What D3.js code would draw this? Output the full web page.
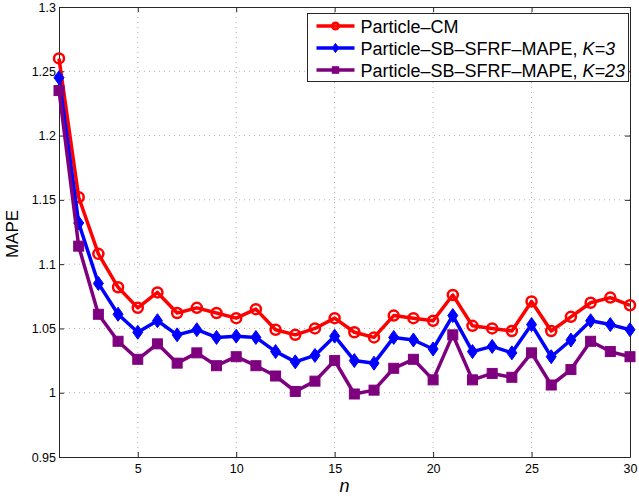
<!DOCTYPE html>
<html>
<head>
<meta charset="utf-8">
<script src="https://cdn.jsdelivr.net/npm/d3@7"></script>
<style>
  body { margin: 0; background: #fff; }
  svg { display: block; font-family: "Liberation Sans", Arial, sans-serif; }
</style>
</head>
<body>
<svg width="639" height="499"></svg>
<script>
// values
var nValues = d3.range(1, 31);
var particleCM = [1.260, 1.152, 1.108, 1.082, 1.066, 1.078, 1.062, 1.066, 1.062, 1.058,
                  1.065, 1.049, 1.045, 1.050, 1.058, 1.047, 1.043, 1.060, 1.058, 1.056,
                  1.076, 1.052, 1.050, 1.048, 1.071, 1.048, 1.059, 1.070, 1.074, 1.068];
var particleK3 = [1.245, 1.132, 1.085, 1.061, 1.047, 1.056, 1.045, 1.049, 1.043, 1.044,
                  1.043, 1.032, 1.024, 1.029, 1.044, 1.025, 1.023, 1.043, 1.041, 1.034,
                  1.060, 1.032, 1.036, 1.031, 1.053, 1.028, 1.041, 1.056, 1.053, 1.049];
var particleK23 = [1.235, 1.114, 1.061, 1.040, 1.026, 1.038, 1.023, 1.031, 1.021, 1.028,
                   1.021, 1.013, 1.001, 1.009, 1.025, 0.999, 1.002, 1.019, 1.026, 1.010,
                   1.045, 1.010, 1.015, 1.012, 1.031, 1.006, 1.018, 1.040, 1.032, 1.028];
var xTicks = [5, 10, 15, 20, 25, 30];
var yTicks = [0.95, 1, 1.05, 1.1, 1.15, 1.2, 1.25, 1.3];
var seriesNames = ["Particle\u2013CM", "Particle\u2013SB\u2013SFRF\u2013MAPE, ", "Particle\u2013SB\u2013SFRF\u2013MAPE, "];
var seriesK = ["", "K=3", "K=23"];
var seriesColors = ["#ff0000", "#0000ff", "#7f007f"];
var seriesMarkers = ["circle", "diamond", "square"];

var series = [particleCM, particleK3, particleK23].map(function(vals, i) {
  return {
    name: seriesNames[i], k: seriesK[i], color: seriesColors[i], marker: seriesMarkers[i],
    values: vals.map(function(v, j) { return { n: nValues[j], v: v }; })
  };
});

var margin = { top: 7, right: 9, bottom: 42, left: 59 };
var svg = d3.select("svg");
var width = 639 - margin.left - margin.right;
var height = 499 - margin.top - margin.bottom;

var x = d3.scaleLinear().domain([1, 30]).range([0, width]);
var y = d3.scaleLinear().domain([0.95, 1.3]).range([height, 0]);

var g = svg.append("g").attr("transform", "translate(" + margin.left + "," + margin.top + ")");

// dotted grid
g.selectAll(".gx").data(xTicks.filter(function(d) { return d < 30; })).enter().append("line")
  .attr("x1", function(d) { return x(d); }).attr("x2", function(d) { return x(d); })
  .attr("y1", 0).attr("y2", height)
  .attr("stroke", "#b0b0b0").attr("stroke-width", 1).attr("stroke-dasharray", "1,4");
g.selectAll(".gy").data(yTicks.filter(function(d) { return d > 0.95 && d < 1.3; })).enter().append("line")
  .attr("x1", 0).attr("x2", width)
  .attr("y1", function(d) { return y(d); }).attr("y2", function(d) { return y(d); })
  .attr("stroke", "#b0b0b0").attr("stroke-width", 1).attr("stroke-dasharray", "1,4");

// axes with inward ticks (matlab style)
var fmt = function(d) { return d3.format("")(+d.toFixed(2)); };
g.append("g").attr("transform", "translate(0," + height + ")")
  .call(d3.axisBottom(x).tickValues(xTicks).tickSizeInner(-5).tickSizeOuter(0).tickPadding(7))
  .call(function(a) { a.selectAll("text").attr("font-size", 12.5).attr("fill", "#000"); });
g.append("g")
  .call(d3.axisLeft(y).tickValues(yTicks).tickFormat(fmt).tickSizeInner(-5).tickSizeOuter(0).tickPadding(3))
  .call(function(a) { a.selectAll("text").attr("font-size", 12.5).attr("fill", "#000"); });
g.append("g")
  .call(d3.axisTop(x).tickValues(xTicks).tickSizeInner(-5).tickSizeOuter(0).tickFormat(""));
g.append("g").attr("transform", "translate(" + width + ",0)")
  .call(d3.axisRight(y).tickValues(yTicks).tickSizeInner(-5).tickSizeOuter(0).tickFormat(""));
g.selectAll(".domain, .tick line").attr("stroke", "#262626");

// lines and markers
var line = d3.line().x(function(d) { return x(d.n); }).y(function(d) { return y(d.v); });
var symbolFor = {
  circle: function(sel, s) { sel.append("circle").attr("r", 5 * s).attr("fill", "none").attr("stroke-width", 2.5); },
  diamond: function(sel, s) { sel.append("path").attr("d", "M0," + (-7 * s) + "L" + (5 * s) + ",0L0," + (7 * s) + "L" + (-5 * s) + ",0Z").attr("stroke-width", 1); },
  square: function(sel, s) { sel.append("rect").attr("x", -5 * s).attr("y", -5 * s).attr("width", 10 * s).attr("height", 10 * s).attr("stroke-width", 1); }
};

series.forEach(function(s) {
  g.append("path").datum(s.values)
    .attr("fill", "none").attr("stroke", s.color).attr("stroke-width", 3.5)
    .attr("stroke-linejoin", "round").attr("d", line);
  var pts = g.selectAll(null).data(s.values).enter().append("g")
    .attr("transform", function(d) { return "translate(" + x(d.n) + "," + y(d.v) + ")"; })
    .attr("fill", s.color).attr("stroke", s.color);
  symbolFor[s.marker](pts, 1);
});

// legend
var lg = svg.append("g").attr("transform", "translate(307.5,13.5)");
lg.append("rect").attr("width", 321).attr("height", 68)
  .attr("fill", "#fff").attr("stroke", "#262626").attr("stroke-width", 1);
series.forEach(function(s, i) {
  var row = lg.append("g").attr("transform", "translate(0," + (12.5 + i * 22) + ")");
  row.append("line").attr("x1", 9).attr("x2", 47)
    .attr("stroke", s.color).attr("stroke-width", 3.5);
  var m = row.append("g").attr("transform", "translate(28,0)").attr("fill", s.color).attr("stroke", s.color);
  symbolFor[s.marker](m, 0.65);
  var t = row.append("text").attr("x", 53).attr("y", 6.5).attr("font-size", 18).attr("fill", "#000")
    .text(s.name);
  if (s.k) t.append("tspan").attr("font-style", "italic").text(s.k);
});

// axis labels
svg.append("text").attr("x", margin.left + x(15.5)).attr("y", 492)
  .attr("text-anchor", "middle").attr("font-size", 18).attr("font-style", "italic").text("n");
svg.append("text").attr("transform", "translate(18," + (margin.top + height / 2 + 2) + ") rotate(-90)")
  .attr("text-anchor", "middle").attr("font-size", 17).text("MAPE");
</script>
</body>
</html>
